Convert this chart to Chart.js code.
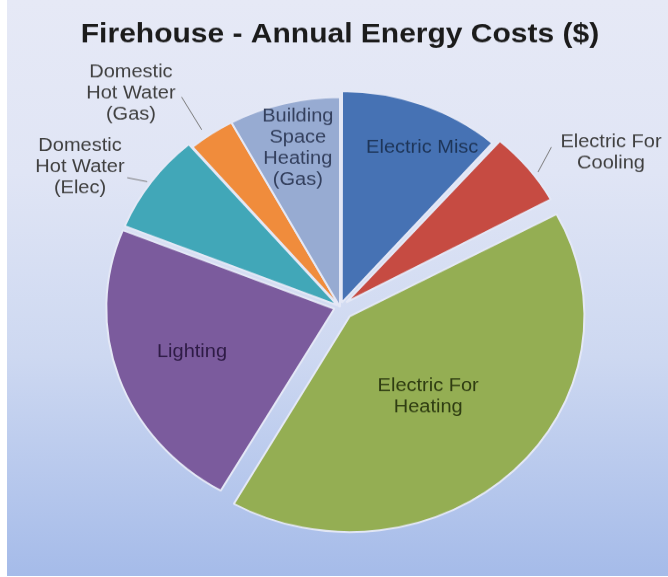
<!DOCTYPE html>
<html>
<head>
<meta charset="utf-8">
<script src="https://cdn.jsdelivr.net/npm/chart.js@4.4.0/dist/chart.umd.min.js"></script>
<style>
html, body { margin: 0; padding: 0; background: #fff; }
#wrap { position: relative; width: 668px; height: 577px; overflow: hidden; }
#panel { position: absolute; left: 7px; top: 0; right: 0; bottom: 1px;
  background: linear-gradient(to bottom, #e6e9f6 0%, #e0e5f5 30%, #cdd8f1 62%, #a5bbe9 100%); }
#myChart { position: absolute; left: 0; top: 0; }
</style>
</head>
<body>
<div id="wrap">
  <div id="panel"></div>
  <canvas id="myChart" width="668" height="627" style="width:668px;height:577px"></canvas>
</div>
<script>
// annual energy cost split, % of total
const categories = ['Electric Misc', 'Electric For Cooling', 'Electric For Heating', 'Lighting',
  'Domestic Hot Water (Elec)', 'Domestic Hot Water (Gas)', 'Building Space Heating (Gas)'];
const costShares = [11.4, 5.7, 41.2, 22.8, 7.7, 3.3, 7.9];
const labelLines = [
  ['Electric Misc'],
  ['Electric For', 'Cooling'],
  ['Electric For', 'Heating'],
  ['Lighting'],
  ['Domestic', 'Hot Water', '(Elec)'],
  ['Domestic', 'Hot Water', '(Gas)'],
  ['Building', 'Space', 'Heating', '(Gas)']
];
const sliceColors = ['#4672b4', '#c64b42', '#94ae53', '#7b5b9d', '#41a7b8', '#f08c3c', '#97abd2'];
const textColors = ['#1e3558', '#404040', '#2f3d12', '#2e1b45', '#404040', '#404040', '#34405e'];
// chart.js moves an arc by offset / 4
const sliceOffsets = [20, 32, 56, 24, 12, 0, 0];

// label placement: r = fraction of radius, da = degrees from slice middle
// line = leader [r1, da1, r2, da2] for labels that sit outside the pie
const labelPlace = [
  { r: 0.84, da: 4.9 },
  { r: 1.397, da: 7.0, line: [1.08, 2.2, 1.2, -0.7] },
  { r: 0.577, da: 2.2 },
  { r: 0.684, da: 0.7 },
  { r: 1.321, da: -5.5, line: [1.035, -0.6, 1.118, -2.4] },
  { r: 1.371, da: -7.6, line: [1.04, -1.3, 1.218, -0.4] },
  { r: 0.78, da: 0.5 }
];

const FONT = '"Liberation Sans", Arial, sans-serif';

const sliceLabels = {
  id: 'sliceLabels',
  afterDatasetsDraw(chart) {
    const ctx = chart.ctx;
    const meta = chart.getDatasetMeta(0);
    ctx.save();
    ctx.font = '20px ' + FONT;
    ctx.textAlign = 'center';
    ctx.textBaseline = 'middle';
    meta.data.forEach((arc, i) => {
      const p = arc.getProps(['x', 'y', 'startAngle', 'endAngle', 'outerRadius'], true);
      const mid = (p.startAngle + p.endAngle) / 2;
      const polar = (r, da) => {
        const a = mid + da * Math.PI / 180;
        return [p.x + r * p.outerRadius * Math.cos(a), p.y + r * p.outerRadius * Math.sin(a)];
      };
      const place = labelPlace[i];
      if (place.line) {
        const [x1, y1] = polar(place.line[0], place.line[1]);
        const [x2, y2] = polar(place.line[2], place.line[3]);
        ctx.strokeStyle = '#7a7a7a';
        ctx.lineWidth = 1;
        ctx.beginPath();
        ctx.moveTo(x1, y1);
        ctx.lineTo(x2, y2);
        ctx.stroke();
      }
      const [tx, ty] = polar(place.r, place.da);
      const lines = labelLines[i];
      const lh = 23;
      ctx.fillStyle = textColors[i];
      lines.forEach((s, k) => {
        ctx.fillText(s, tx, ty + (k - (lines.length - 1) / 2) * lh);
      });
    });
    ctx.restore();
  }
};

const chart = new Chart(document.getElementById('myChart').getContext('2d'), {
  type: 'pie',
  data: {
    labels: categories,
    datasets: [{
      data: costShares,
      backgroundColor: sliceColors,
      borderColor: '#e4e8f6',
      borderWidth: 2,
      offset: sliceOffsets,
      hoverOffset: 0,
      radius: 228
    }]
  },
  options: {
    responsive: false,
    devicePixelRatio: 1,
    animation: false,
    layout: { padding: { left: 36, right: 24, top: 0, bottom: 24 } },
    plugins: {
      legend: { display: false },
      tooltip: { enabled: false },
      title: {
        display: true,
        text: 'Firehouse - Annual Energy Costs ($)',
        color: '#1b1b1b',
        font: { family: FONT, size: 30, weight: 'bold' },
        padding: { top: 20, bottom: 8 }
      }
    }
  },
  plugins: [sliceLabels]
});
</script>
</body>
</html>
